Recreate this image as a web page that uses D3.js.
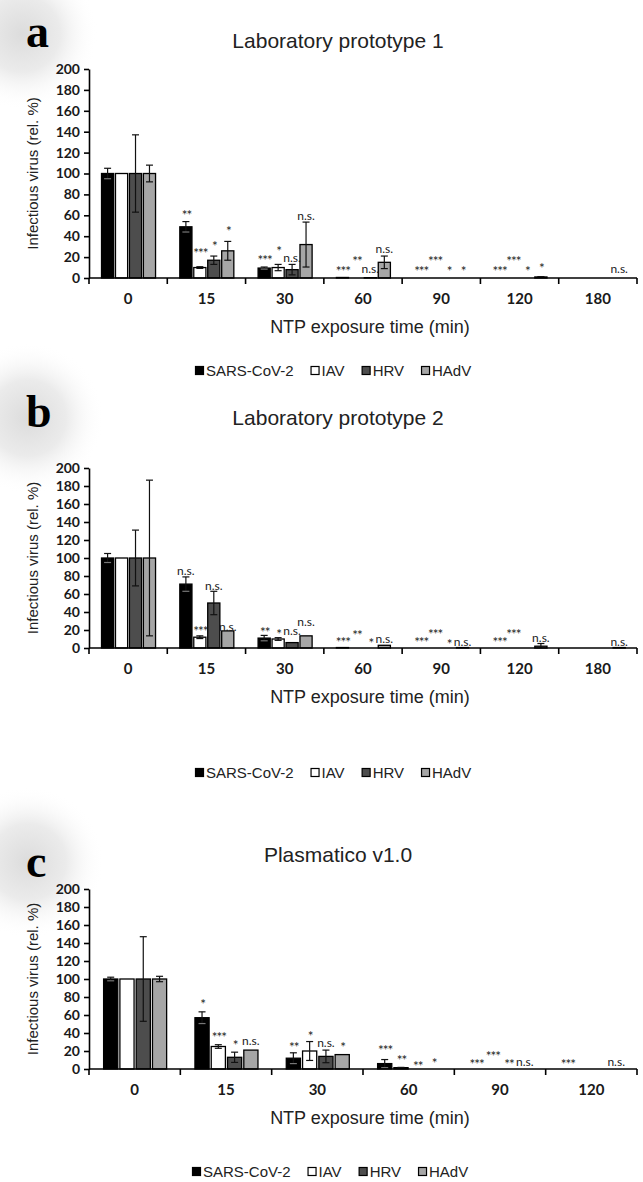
<!DOCTYPE html>
<html>
<head>
<meta charset="utf-8">
<script src="https://cdn.jsdelivr.net/npm/d3@7"></script>
<style>
  html, body { margin: 0; padding: 0; background: #fff; }
  svg { display: block; }
</style>
</head>
<body>
<svg id="chart" width="643" height="1182"></svg>
<script>
// ---------------- DATA ----------------
const seriesNames = ["SARS-CoV-2", "IAV", "HRV", "HAdV"];
const seriesFill = ["#000000", "#ffffff", "#4d4d4d", "#a6a6a6"];
const yTicks = [0, 20, 40, 60, 80, 100, 120, 140, 160, 180, 200];

// Panel a: Laboratory prototype 1
const catsA = ["0", "15", "30", "60", "90", "120", "180"];
const valsA = [
  [100, 49, 9.5, 0.5, 0, 0, 0],     // SARS-CoV-2
  [100, 10, 10, 0, 0, 0, 0],        // IAV
  [100, 17, 8, 0.3, 0, 0, 0],       // HRV
  [100, 26, 32, 15, 0, 1, 0]        // HAdV
];
const errA = [
  [5, 5, 1, 0, 0, 0, 0],
  [0, 0.8, 3, 0, 0, 0, 0],
  [37, 4, 5, 0, 0, 0, 0],
  [8, 9, 21.5, 6, 0, 0.3, 0]
];
const sigA = [
  ["", "**", "***", "***", "***", "***", ""],
  ["", "***", "*", "**", "***", "***", ""],
  ["", "*", "n.s.", "n.s.", "*", "*", ""],
  ["", "*", "n.s.", "n.s.", "*", "*", "n.s."]
];
const sigLevelA = [
  [0, 63, 19.5, 9, 9, 9, 0],
  [0, 26.6, 28, 18.6, 19, 19, 0],
  [0, 33, 19.5, 9, 9, 9, 0],
  [0, 47, 60, 28.5, 9, 12, 9]
];

// Panel b: Laboratory prototype 2
const catsB = ["0", "15", "30", "60", "90", "120", "180"];
const valsB = [
  [100, 71, 11, 0.5, 0, 0, 0],
  [100, 12, 10, 0, 0, 0, 0],
  [100, 50, 6, 0, 0, 0, 0],
  [100, 19, 13.5, 3, 0.5, 2, 0.5]
];
const errB = [
  [5, 8, 3, 0, 0, 0, 0],
  [0, 1.5, 1.5, 0, 0, 0, 0],
  [31, 13, 0, 0, 0, 0, 0],
  [86.5, 0, 0, 0, 0, 3, 0]
];
const sigB = [
  ["", "n.s.", "**", "***", "***", "***", ""],
  ["", "***", "*", "**", "***", "***", ""],
  ["", "n.s.", "n.s.", "*", "*", "", ""],
  ["", "n.s.", "n.s.", "n.s.", "n.s.", "n.s.", "n.s."]
];
const sigLevelB = [
  [0, 86.5, 21, 9.6, 9.6, 9, 0],
  [0, 21.6, 18.7, 16.8, 18, 18, 0],
  [0, 70, 20, 8.4, 7.4, 0, 0],
  [0, 24, 29, 10.6, 7.4, 12, 7]
];

// Panel c: Plasmatico v1.0
const catsC = ["0", "15", "30", "60", "90", "120"];
const valsC = [
  [100, 57, 12, 6, 0, 0],
  [100, 25, 20, 1.5, 0, 0],
  [100, 13, 14, 0, 0, 0],
  [100, 21, 16, 0, 0, 0]
];
const errC = [
  [2, 6.5, 6, 4.5, 0, 0],
  [0, 2, 10.5, 0.3, 0, 0],
  [47, 5.7, 7, 0, 0, 0],
  [3, 0, 0, 0, 0, 0]
];
const sigC = [
  ["", "*", "**", "***", "***", "***"],
  ["", "***", "*", "**", "***", ""],
  ["", "*", "n.s.", "**", "**", ""],
  ["", "n.s.", "*", "*", "n.s.", "n.s."]
];
const sigLevelC = [
  [0, 75, 27.4, 24, 8.7, 8],
  [0, 38.7, 39.7, 12.3, 17.7, 0],
  [0, 29, 29.7, 6.5, 8, 0],
  [0, 32, 26.8, 9.7, 8, 8]
];

const titles = ["Laboratory prototype 1", "Laboratory prototype 2", "Plasmatico v1.0"];
const letters = ["a", "b", "c"];
const xTitle = "NTP exposure time (min)";
const yTitle = "Infectious virus (rel. %)";

// ---------------- LAYOUT ----------------
const svg = d3.select("#chart");
const defs = svg.append("defs");
const grad = defs.append("radialGradient").attr("id", "halo");
grad.append("stop").attr("offset", "0%").attr("stop-color", "#dcdcdc");
grad.append("stop").attr("offset", "50%").attr("stop-color", "#ebebeb");
grad.append("stop").attr("offset", "100%").attr("stop-color", "#ffffff").attr("stop-opacity", 0);

const panels = [
  { cats: catsA, vals: valsA, err: errA, sig: sigA, lvl: sigLevelA,
    top: 69, bottom: 278, titleY: 48, letterY: 47, halo: [22, 34], legendY: 376, legendX: 195 },
  { cats: catsB, vals: valsB, err: errB, sig: sigB, lvl: sigLevelB,
    top: 468, bottom: 648, titleY: 425, letterY: 427, halo: [28, 418], legendY: 778, legendX: 195 },
  { cats: catsC, vals: valsC, err: errC, sig: sigC, lvl: sigLevelC,
    top: 889, bottom: 1069, titleY: 862, letterY: 877, halo: [28, 862], legendY: 1177, legendX: 192 }
];

const axisLeftX = 89, axisRightX = 637;

panels.forEach((p, pi) => {
  const g = svg.append("g");

  // halo behind panel letter
  g.append("circle").attr("cx", p.halo[0]).attr("cy", p.halo[1]).attr("r", 76)
    .attr("fill", "url(#halo)");

  g.append("text").attr("x", 26).attr("y", p.letterY)
    .attr("font-family", "'Liberation Serif', 'DejaVu Serif', serif")
    .attr("font-weight", "bold").attr("font-size", 46).attr("fill", "#000")
    .text(letters[pi]);

  g.append("text").attr("x", 338).attr("y", p.titleY).attr("text-anchor", "middle")
    .attr("font-family", "'Liberation Sans', Arial, sans-serif")
    .attr("font-size", 21).attr("fill", "#222").text(titles[pi]);

  const y = d3.scaleLinear().domain([0, 200]).range([p.bottom, p.top]);
  const x = d3.scaleBand().domain(p.cats).range([axisLeftX, axisRightX]).paddingInner(0).paddingOuter(0);
  const bw = x.bandwidth();
  const xs = d3.scaleBand().domain(d3.range(4)).range([0.16 * bw, 0.85 * bw]).paddingInner(0.13).paddingOuter(0);

  // y axis
  const yAxis = d3.axisLeft(y).tickValues(yTicks).tickSize(5).tickSizeOuter(0).tickPadding(4);
  const ya = g.append("g").attr("transform", `translate(${axisLeftX},0)`).call(yAxis);
  ya.select(".domain").attr("stroke", "#000").attr("stroke-width", 1.6);
  ya.selectAll(".tick line").attr("stroke", "#000").attr("stroke-width", 1.6);
  ya.selectAll(".tick text").attr("font-family", "Lato, 'Open Sans', sans-serif")
    .attr("font-weight", "bold").attr("font-size", 14).attr("fill", "#1a1a1a");

  // y title
  g.append("text")
    .attr("transform", `translate(38,${(p.top + p.bottom) / 2}) rotate(-90)`)
    .attr("text-anchor", "middle")
    .attr("font-family", "'Liberation Sans', Arial, sans-serif")
    .attr("font-size", 15).attr("fill", "#222").text(yTitle);

  // bars
  const data = [];
  p.cats.forEach((c, ci) => {
    for (let s = 0; s < 4; s++) {
      data.push({ c, s, v: p.vals[s][ci], e: p.err[s][ci], sig: p.sig[s][ci], lvl: p.lvl[s][ci] });
    }
  });

  g.selectAll("rect.bar").data(data.filter(d => d.v > 0)).join("rect")
    .attr("class", "bar")
    .attr("x", d => x(d.c) + xs(d.s))
    .attr("width", xs.bandwidth())
    .attr("y", d => y(d.v))
    .attr("height", d => y(0) - y(d.v))
    .attr("fill", d => seriesFill[d.s])
    .attr("stroke", "#000").attr("stroke-width", 1.3);

  // error bars
  const eb = data.filter(d => d.e > 0);
  const cx = d => x(d.c) + xs(d.s) + xs.bandwidth() / 2;
  const capW = 3.5;
  const eg = g.append("g").attr("stroke", "#111").attr("stroke-width", 1.2);
  eg.selectAll("line.v").data(eb).join("line")
    .attr("x1", cx).attr("x2", cx)
    .attr("y1", d => y(d.v + d.e)).attr("y2", d => y(Math.max(0, d.v - d.e)));
  eg.selectAll("line.t").data(eb).join("line")
    .attr("x1", d => cx(d) - capW).attr("x2", d => cx(d) + capW)
    .attr("y1", d => y(d.v + d.e)).attr("y2", d => y(d.v + d.e));
  eg.selectAll("line.b").data(eb.filter(d => d.v - d.e > 0)).join("line")
    .attr("x1", d => cx(d) - capW).attr("x2", d => cx(d) + capW)
    .attr("y1", d => y(d.v - d.e)).attr("y2", d => y(d.v - d.e))
    .attr("stroke", d => d.s === 0 ? "#777" : "#111");

  // x axis
  g.append("line").attr("x1", axisLeftX).attr("x2", axisRightX)
    .attr("y1", y(0)).attr("y2", y(0)).attr("stroke", "#000").attr("stroke-width", 1.6);
  const bounds = p.cats.map(c => x(c)).concat([axisRightX]);
  g.selectAll("line.xt").data(bounds).join("line")
    .attr("x1", d => d).attr("x2", d => d)
    .attr("y1", y(0)).attr("y2", y(0) + 6)
    .attr("stroke", "#000").attr("stroke-width", 1.6);
  g.selectAll("text.cat").data(p.cats).join("text")
    .attr("x", d => x(d) + bw / 2).attr("y", y(0) + 26)
    .attr("text-anchor", "middle")
    .attr("font-family", "Lato, 'Open Sans', sans-serif")
    .attr("font-weight", "bold").attr("font-size", 15).attr("fill", "#1a1a1a")
    .text(d => d);

  g.append("text").attr("x", 370).attr("y", y(0) + 55).attr("text-anchor", "middle")
    .attr("font-family", "'Liberation Sans', Arial, sans-serif")
    .attr("font-size", 18).attr("fill", "#222").text(xTitle);

  // significance labels
  const isStar = d => d.sig.includes("*");
  g.selectAll("text.sig").data(data.filter(d => d.sig)).join("text")
    .attr("x", d => cx(d) + (isStar(d) ? 0.5 : 0))
    .attr("y", d => y(d.lvl) + (isStar(d) ? 7.5 : 4.5))
    .attr("text-anchor", "middle")
    .attr("font-family", "Lato, 'Open Sans', sans-serif")
    .attr("font-size", d => isStar(d) ? 13.5 : 12)
    .attr("letter-spacing", d => isStar(d) ? -1 : 0)
    .attr("fill", "#1a1a1a")
    .text(d => d.sig);

  // legend
  const lg = g.append("g").attr("transform", `translate(${p.legendX},${p.legendY})`);
  let lx = 0;
  seriesNames.forEach((name, i) => {
    lg.append("rect").attr("x", lx + 0.5).attr("y", -9.5).attr("width", 8).attr("height", 8)
      .attr("fill", seriesFill[i]).attr("stroke", "#000").attr("stroke-width", 1.2);
    const t = lg.append("text").attr("x", lx + 11).attr("y", 0)
      .attr("font-family", "'Liberation Sans', Arial, sans-serif")
      .attr("font-size", 15).attr("fill", "#222").text(name);
    lx += 11 + t.node().getComputedTextLength() + 17;
  });
});
</script>
</body>
</html>
